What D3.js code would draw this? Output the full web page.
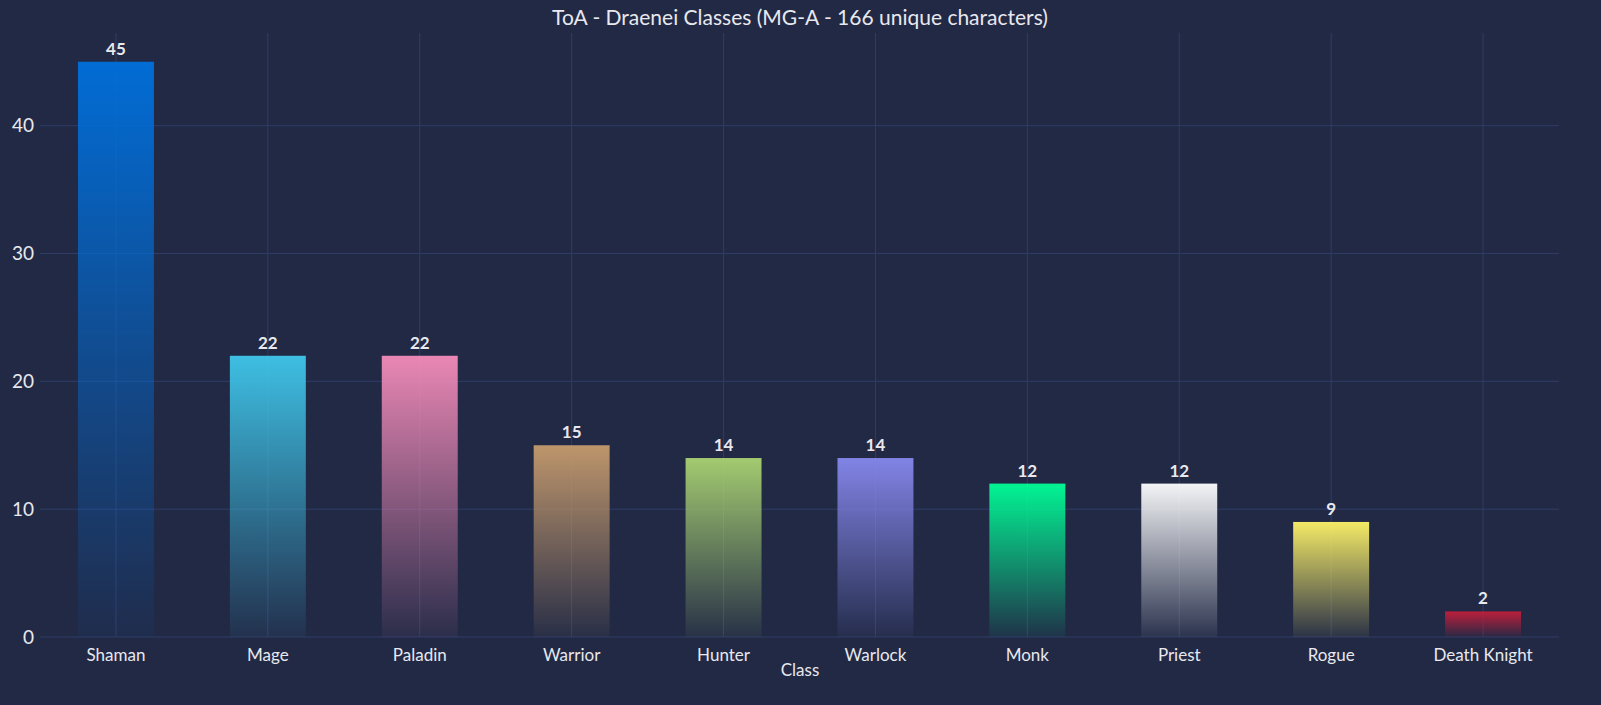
<!DOCTYPE html>
<html><head><meta charset="utf-8">
<script src="https://cdn.jsdelivr.net/npm/d3@7"></script>
<style>body{margin:0;background:#212945;}svg{display:block;font-family:Lato,"Noto Sans",sans-serif;}</style>
</head><body>
<div class="canvas"></div>
<script>
const classes = ['Shaman','Mage','Paladin','Warrior','Hunter','Warlock','Monk','Priest','Rogue','Death Knight'];
const counts = [45,22,22,15,14,14,12,12,9,2];
const colors = ['#0070dd','#3fc7eb','#f48cba','#c69b6d','#aad372','#8788ee','#00ff98','#ffffff','#fff468','#c41e3a'];
const yTicks = [0,10,20,30,40];

const W = 1601, H = 705;
const svg = d3.select('.canvas').append('svg').attr('width', W).attr('height', H);
svg.append('rect').attr('width', W).attr('height', H).attr('fill', '#212945');

const x = d3.scaleBand().domain(classes).range([40, 1559]).paddingInner(0.5).paddingOuter(0.25);
const y = d3.scaleLinear().domain([0, 47.25]).range([637, 33]);

// gradients
const defs = svg.append('defs');
classes.forEach((c, i) => {
  const g = defs.append('linearGradient').attr('id', 'g' + i)
    .attr('x1', 0).attr('y1', 0).attr('x2', 0).attr('y2', 1);
  g.append('stop').attr('offset', '0%').attr('stop-color', colors[i]).attr('stop-opacity', 0.95);
  g.append('stop').attr('offset', '100%').attr('stop-color', colors[i]).attr('stop-opacity', 0.05);
});

// grid
const grid = svg.append('g');
grid.selectAll('.hy').data(yTicks).enter().append('line')
  .attr('x1', 40).attr('x2', 1559).attr('y1', d => y(d)).attr('y2', d => y(d))
  .attr('stroke', '#2f3d66').attr('stroke-width', 1);
grid.selectAll('.vx').data(classes).enter().append('line')
  .attr('x1', d => x(d) + x.bandwidth() / 2).attr('x2', d => x(d) + x.bandwidth() / 2)
  .attr('y1', 33).attr('y2', 637)
  .attr('stroke', '#2f3d66').attr('stroke-width', 1);

// bars
svg.selectAll('.bar').data(classes).enter().append('rect')
  .attr('x', d => x(d)).attr('width', x.bandwidth())
  .attr('y', (d, i) => y(counts[i])).attr('height', (d, i) => y(0) - y(counts[i]))
  .attr('fill', (d, i) => `url(#g${i})`);

svg.selectAll('.val').data(classes).enter().append('text')
  .attr('x', d => x(d) + x.bandwidth() / 2).attr('y', (d, i) => y(counts[i]) - 7)
  .attr('text-anchor', 'middle').attr('fill', '#e8e8ee')
  .attr('font-size', 17).attr('font-weight', 'bold')
  .text((d, i) => counts[i]);

// axes
const xAxis = svg.append('g').attr('transform', 'translate(0,637)')
  .call(d3.axisBottom(x).tickSize(0).tickPadding(12));
const yAxis = svg.append('g').attr('transform', 'translate(40,0)')
  .call(d3.axisLeft(y).tickValues(yTicks).tickSize(0).tickPadding(6));
[xAxis, yAxis].forEach(a => {
  a.select('.domain').remove();
  a.selectAll('text').attr('fill', '#e8e8ee').attr('font-size', 17).style('font-family', 'Lato,"Noto Sans",sans-serif');
});
yAxis.selectAll('text').attr('font-size', 19);

svg.append('text').attr('x', 800).attr('y', 676).attr('text-anchor', 'middle')
  .attr('fill', '#e8e8ee').attr('font-size', 17).text('Class');
svg.append('text').attr('x', 800).attr('y', 25).attr('text-anchor', 'middle')
  .attr('fill', '#e8e8ee').attr('font-size', 21).text('ToA - Draenei Classes (MG-A - 166 unique characters)');
</script>
</body></html>
